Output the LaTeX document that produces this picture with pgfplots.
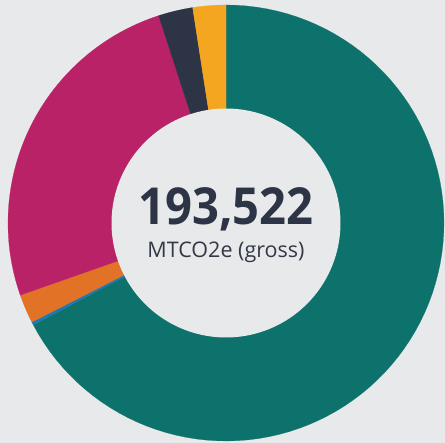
\documentclass[border=0pt]{standalone}
\usepackage{pgfplots}
\pgfplotsset{compat=1.18}
\usepackage{pgfplotstable}
\usepackage{fontspec}
\setmainfont{Open Sans}
\definecolor{cbg}{RGB}{232,233,235}
\definecolor{cteal}{RGB}{13,114,108}
\definecolor{cblue}{RGB}{30,120,180}
\definecolor{corange}{RGB}{226,114,37}
\definecolor{cmagenta}{RGB}{185,34,102}
\definecolor{cnavy}{RGB}{44,52,69}
\definecolor{cyellow}{RGB}{245,166,32}
\definecolor{ctext}{RGB}{50,56,70}
% values in thousands of MTCO2e, clockwise from the top
\pgfplotstableread{
value col
130.16 cteal
0.45 cblue
4.14 corange
49.09 cmagenta
4.95 cnavy
4.73 cyellow
}\slices
\begin{document}
\begin{tikzpicture}
\begin{axis}[hide axis, x=1pt, y=1pt, scale only axis,
  xmin=-226, xmax=219, ymin=-220, ymax=223, clip=false]
\fill[cbg] (rel axis cs:0,0) rectangle (rel axis cs:1,1);
\def\total{0}
\pgfplotsforeachungrouped \i in {0,...,5}{%
  \pgfplotstablegetelem{\i}{value}\of\slices
  \pgfmathsetmacro\total{\total+\pgfplotsretval}%
}
\def\cum{0}
\pgfplotsforeachungrouped \i in {0,...,5}{%
  \pgfplotstablegetelem{\i}{value}\of\slices \let\v\pgfplotsretval
  \pgfplotstablegetelem{\i}{col}\of\slices \let\c\pgfplotsretval
  \pgfmathsetmacro\a{90-(\cum+\v)/\total*360}%
  \pgfmathsetmacro\b{90-\cum/\total*360}%
  \edef\doplot{\noexpand\addplot[fill=\c, draw=\c, line width=0.2pt, domain=\a:\b, samples=90, variable=\noexpand\t] ({218*cos(\noexpand\t)},{218*sin(\noexpand\t)}) -- (axis cs:0,0) -- cycle;}%
  \doplot
  \pgfmathsetmacro\cum{\cum+\v}%
}
\addplot[fill=cbg, draw=none, domain=0:360, samples=180, variable=\t] ({114.5*cos(t)},{114.5*sin(t)}) -- cycle;
\node[font=\fontsize{51}{51}\selectfont\bfseries, text=cnavy, anchor=base, xscale=0.925] at (axis cs:0,-2) {193,522};
\node[font=\fontsize{21.5}{21.5}\selectfont, text=ctext, anchor=base] at (axis cs:0,-35) {MTCO2e (gross)};
\end{axis}
\end{tikzpicture}
\end{document}
